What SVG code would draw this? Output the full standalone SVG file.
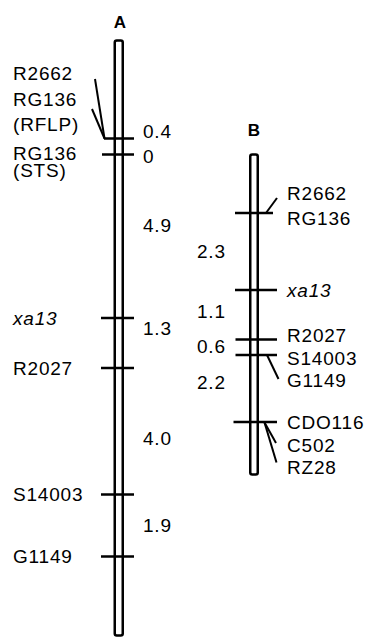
<svg xmlns="http://www.w3.org/2000/svg" width="369" height="637" viewBox="0 0 369 637">
<style>
text{font-family:"Liberation Sans",Arial,sans-serif;font-size:19px;letter-spacing:0.8px;fill:#000}
.t{font-weight:bold;font-size:17px;letter-spacing:0;text-anchor:middle}
.i{font-style:italic}
.chr{fill:#fff;stroke:#000;stroke-width:2.5}
.tk{stroke:#000;stroke-width:2.5;fill:none}
.ln{stroke:#000;stroke-width:2;fill:none}
</style>
<rect width="369" height="637" fill="#fff"/>
<g id="chromA">
<text class="t" x="120" y="28">A</text>
<rect class="chr" x="114.75" y="40.5" width="8" height="595" rx="2"/>
</g>
<g id="chromB">
<text class="t" x="254" y="136">B</text>
<rect class="chr" x="250.25" y="154.5" width="7.5" height="320" rx="2"/>
</g>
<g id="markersA">
<g id="A-R2662"><text x="13" y="80">R2662</text><text x="13" y="106">RG136</text><text x="13" y="131">(RFLP)</text><line class="tk" x1="104" y1="138.5" x2="134" y2="138.5"/></g>
<g id="A-RG136"><text x="13" y="160">RG136</text><text x="13" y="177">(STS)</text><line class="tk" x1="102" y1="154.5" x2="134" y2="154.5"/></g>
<g id="A-xa13"><text class="i" x="13" y="325">xa13</text><line class="tk" x1="101" y1="318" x2="134" y2="318"/></g>
<g id="A-R2027"><text x="13" y="375">R2027</text><line class="tk" x1="101" y1="368" x2="134" y2="368"/></g>
<g id="A-S14003"><text x="13" y="501">S14003</text><line class="tk" x1="101" y1="494.5" x2="134" y2="494.5"/></g>
<g id="A-G1149"><text x="13" y="563">G1149</text><line class="tk" x1="101" y1="556.5" x2="134" y2="556.5"/></g>
<g id="A-dist"><text x="143" y="138">0.4</text><text x="143" y="163">0</text><text x="143" y="232">4.9</text><text x="143" y="335">1.3</text><text x="143" y="445">4.0</text><text x="143" y="532">1.9</text></g>
</g>
<g id="markersB">
<g id="B-R2662"><text x="287" y="200">R2662</text><text x="287" y="225">RG136</text><line class="tk" x1="235" y1="213" x2="273" y2="213"/></g>
<g id="B-xa13"><text class="i" x="287" y="297">xa13</text><line class="tk" x1="235" y1="290" x2="277" y2="290"/></g>
<g id="B-R2027"><text x="287" y="342">R2027</text><line class="tk" x1="235.5" y1="339.5" x2="277" y2="339.5"/></g>
<g id="B-S14003"><text x="287" y="365">S14003</text><text x="287" y="387">G1149</text><line class="tk" x1="235.5" y1="355" x2="277" y2="355"/></g>
<g id="B-CDO116"><text x="287" y="429">CDO116</text><text x="287" y="452">C502</text><text x="287" y="474">RZ28</text><line class="tk" x1="233.5" y1="422" x2="277" y2="422"/></g>
<g id="B-dist"><text x="197" y="258">2.3</text><text x="197" y="318">1.1</text><text x="197" y="353">0.6</text><text x="197" y="389">2.2</text></g>
</g>
<g id="connectors">
<line class="ln" x1="95" y1="79" x2="104.5" y2="138.5"/>
<line class="ln" x1="92" y1="109" x2="104.5" y2="138.5"/>
<line class="ln" x1="266" y1="213" x2="277" y2="198"/>
<line class="ln" x1="267" y1="355" x2="278.5" y2="379"/>
<line class="ln" x1="264.5" y1="422.5" x2="276" y2="443"/>
<line class="ln" x1="264.5" y1="422.5" x2="276.5" y2="462.5"/>
</g>
</svg>
